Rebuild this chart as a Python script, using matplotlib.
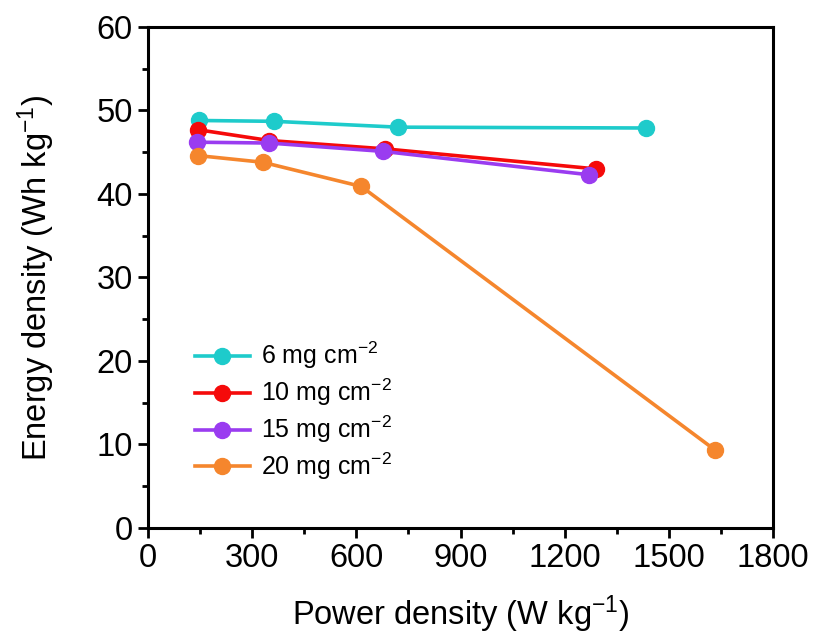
import matplotlib
matplotlib.use("Agg")
import matplotlib.pyplot as plt
from matplotlib.ticker import MultipleLocator

plt.rcParams["font.family"] = ["Liberation Sans", "DejaVu Sans"]
plt.rcParams["mathtext.default"] = "regular"

# Data
labels = ["6 mg cm$^{-2}$", "10 mg cm$^{-2}$", "15 mg cm$^{-2}$", "20 mg cm$^{-2}$"]
colors = ["#1ECBCB", "#F50A0A", "#9A3CF0", "#F5862D"]
power_6 = [147, 363, 720, 1434]
energy_6 = [48.8, 48.7, 48.0, 47.9]
power_10 = [143, 349, 683, 1290]
energy_10 = [47.7, 46.4, 45.4, 43.0]
power_15 = [140, 349, 677, 1270]
energy_15 = [46.2, 46.1, 45.1, 42.3]
power_20 = [143, 330, 614, 1634]
energy_20 = [44.6, 43.8, 40.9, 9.3]

series = [(power_6, energy_6), (power_10, energy_10),
          (power_15, energy_15), (power_20, energy_20)]

fig = plt.figure(figsize=(8.15, 6.42), dpi=100)
ax = fig.add_axes([0.1816, 0.1776, 0.767, 0.7804])

for (px, ey), c, lab in zip(series, colors, labels):
    ax.plot(px, ey, "-o", color=c, lw=2.6, ms=11.5, label=lab)

ax.set_xlim(0, 1800)
ax.set_ylim(0, 60)
ax.xaxis.set_major_locator(MultipleLocator(300))
ax.xaxis.set_minor_locator(MultipleLocator(150))
ax.yaxis.set_major_locator(MultipleLocator(10))
ax.yaxis.set_minor_locator(MultipleLocator(5))
ax.tick_params(which="both", direction="out", width=2, labelsize=23.5,
               top=False, right=False, pad=4)
ax.tick_params(which="major", length=7)
ax.tick_params(which="minor", length=4)
for s in ax.spines.values():
    s.set_linewidth(2.2)

ax.set_xlabel("Power density (W kg$^{-1}$)", fontsize=23.5, labelpad=14)
ax.set_ylabel("Energy density (Wh kg$^{-1}$)", fontsize=23.5, labelpad=28)

ax.legend(loc="upper left", bbox_to_anchor=(0.075, 0.375), frameon=False,
          fontsize=18, handlelength=2.2, handletextpad=0.45, labelspacing=0.22,
          borderpad=0, borderaxespad=0)

fig.savefig("out.png", dpi=100)
